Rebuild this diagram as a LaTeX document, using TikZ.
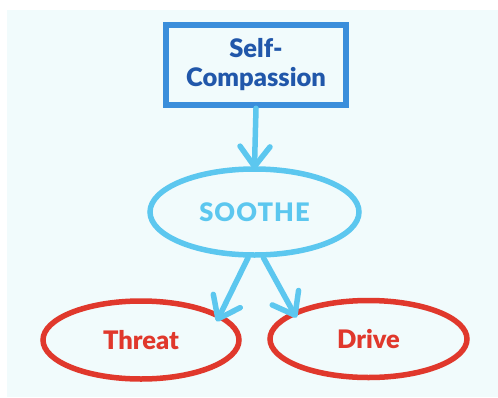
\documentclass[tikz,border=0pt]{standalone}
\usepackage{fontspec}
\setmainfont{Lato}[BoldFont={Lato Black}]
\usetikzlibrary{arrows.meta,shapes.geometric}
\definecolor{bgc}{HTML}{F1FBFC}
\definecolor{boxblue}{HTML}{3A8EDB}
\definecolor{darkblue}{HTML}{2157AA}
\definecolor{lightblue}{HTML}{5CC7EF}
\definecolor{redc}{HTML}{E0382C}
\tikzset{
  lbl/.style={font=\fontsize{25.5}{29}\selectfont\bfseries, align=center},
  oval/.style={ellipse, inner sep=0pt, line width=5.5pt, lbl},
  arr/.style={draw=lightblue, line width=5.5pt, line cap=round,
    -{Straight Barb[length=20pt,width=30pt,line cap=round,line join=round]}},
}
\begin{document}
\begin{tikzpicture}[x=1pt,y=-1pt]
\useasboundingbox (0,0) rectangle (498,397);
\fill[white] (0,0) rectangle (498,397);
\fill[bgc] (7,10) rectangle (498,397);
\node[draw=boxblue, line width=6.5pt, minimum width=180pt, minimum height=80pt,
  inner sep=0pt, text=darkblue, lbl] (sc) at (256,65) {Self-\\Compassion};
\node[oval, draw=lightblue, text=lightblue, minimum width=209pt, minimum height=86pt]
  (soothe) at (254.5,212) {\addfontfeature{LetterSpace=4}SOOTHE};
\node[oval, draw=redc, text=redc, minimum width=196pt, minimum height=78pt]
  (threat) at (141,340) {Threat};
\node[oval, draw=redc, text=redc, minimum width=197pt, minimum height=77pt]
  (drive) at (368.5,339) {Drive};
\draw[arr, shorten >=-3pt] (sc.south) -- (soothe.north);
\draw[arr, shorten >=-8pt] (soothe.262.6) -- (threat.18.4);
\draw[arr, shorten >=-7pt] (soothe.281.9) -- (drive.160.8);
\end{tikzpicture}
\end{document}
